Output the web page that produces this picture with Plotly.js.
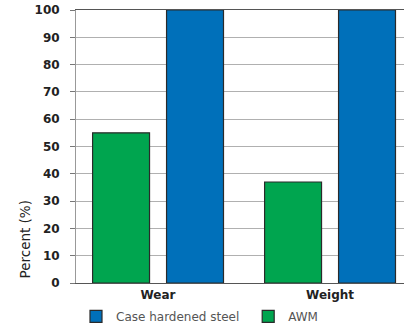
<!DOCTYPE html>
<html><head><meta charset="utf-8">
<script src="https://cdn.plot.ly/plotly-3.0.1.min.js"></script>
<style>body{margin:0;padding:0;background:#fff}#chart{width:404px;height:326px}</style>
</head><body><div id="chart"></div>
<script>
const categories = ["Wear", "Weight"];
const awmValues = [55, 37];
const steelValues = [100, 100];
const yTicks = [0, 10, 20, 30, 40, 50, 60, 70, 80, 90, 100];

const data = [
  {type: "bar", name: "AWM", x: categories, y: awmValues, legend: "legend2",
   marker: {color: "#00a54f", line: {color: "#2a2a2a", width: 1.2}}},
  {type: "bar", name: "Case hardened steel", x: categories, y: steelValues, legend: "legend",
   marker: {color: "#0070ba", line: {color: "#2a2a2a", width: 1.2}}}
];

const legendBase = {orientation: "h", xanchor: "left", yanchor: "top", yref: "container", y: 0.074,
                    font: {family: "DejaVu Sans, sans-serif", size: 12, color: "#555"},
                    itemwidth: 30, bgcolor: "rgba(0,0,0,0)", borderwidth: 0};

const layout = {
  width: 404, height: 326,
  margin: {l: 76, r: 0, t: 10, b: 43},
  paper_bgcolor: "#fff", plot_bgcolor: "#fff",
  barmode: "group", bargap: 0.14, bargroupgap: 0.23,
  font: {family: "DejaVu Sans, sans-serif", color: "#333"},
  xaxis: {range: [-0.477, 1.43], showline: true, mirror: true, linecolor: "#555", linewidth: 1.2,
          ticks: "", showgrid: false, tickfont: {size: 12, color: "#222", weight: "bold"}},
  yaxis: {range: [0, 100], tickvals: yTicks, ticks: "outside", ticklen: 5, tickcolor: "#777",
          showline: true, linecolor: "#999", linewidth: 1, gridcolor: "#b0b0b0", gridwidth: 1,
          zeroline: false, ticklabelstandoff: 8, tickfont: {size: 12, color: "#222", weight: "bold"}},
  showlegend: true,
  legend: Object.assign({}, legendBase, {x: 0.0}),
  legend2: Object.assign({}, legendBase, {x: 0.525}),
  annotations: [{text: "Percent (%)", textangle: -90, xref: "paper", yref: "paper",
                 x: -0.155, y: 0.16, xanchor: "center", yanchor: "middle", showarrow: false,
                 font: {size: 13.5, color: "#222"}}]
};
Plotly.newPlot("chart", data, layout, {displayModeBar: false, staticPlot: true});
</script></body></html>
